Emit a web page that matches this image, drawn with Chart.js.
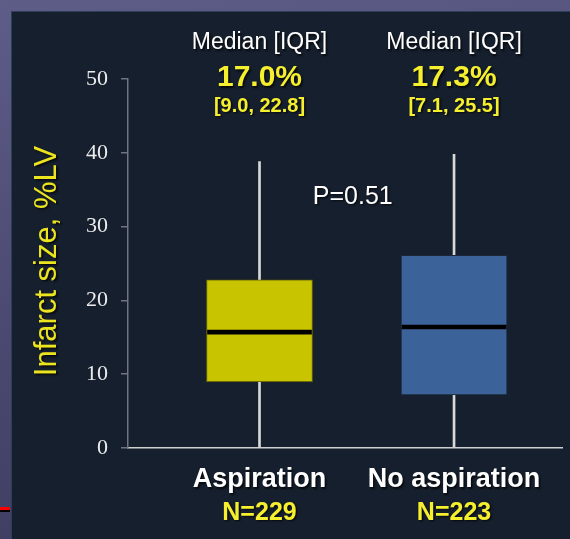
<!DOCTYPE html>
<html>
<head>
<meta charset="utf-8">
<script src="https://cdn.jsdelivr.net/npm/chart.js@4"></script>
<style>
  html, body { margin: 0; padding: 0; }
  body {
    width: 570px; height: 539px; overflow: hidden; position: relative;
    background: linear-gradient(170deg, #5e5d88 0%, #4a4870 55%, #3c3a5c 100%);
  }
  #panel {
    position: absolute; left: 11px; top: 11px; width: 558px; height: 527px;
    background: #161f2d; border-left: 1px solid #2c3f58; border-top: 1px solid #2c3f58;
  }
  #redline { position: absolute; left: 0; top: 507px; width: 10px; height: 3px; background: #ff0000; }
  #blackline { position: absolute; left: 0; top: 510px; width: 10px; height: 2px; background: #000; }
  #chart { position: absolute; left: 0; top: 0; }
</style>
</head>
<body>
<div id="panel"></div>
<div id="redline"></div>
<div id="blackline"></div>
<canvas id="chart" width="570" height="539"></canvas>
<script>
// Dados do gráfico
const groups = ['Aspiration', 'No aspiration'];
const groupN = ['N=229', 'N=223'];
const positions = [1, 2];
const medianLabel = ['17.0%', '17.3%'];
const iqrLabel = ['[9.0, 22.8]', '[7.1, 25.5]'];
const q1 = [9.0, 7.2];
const q3 = [22.8, 26.1];
const medians = [15.7, 16.4];
const whiskerMin = [0, 0];
const whiskerMax = [38.8, 39.8];
const boxColors = ['#c8c400', '#3b6399'];
const boxBorders = ['#6e6c00', '#1b2738'];
const yTicks = [0, 10, 20, 30, 40, 50];
const pValue = 'P=0.51';

// Plugin para textos (anotações, rótulos das categorias, título do eixo)
const textPlugin = {
  id: 'texts',
  afterDraw(chart) {
    const ctx = chart.ctx;
    const xs = chart.scales.x;
    ctx.save();
    ctx.shadowColor = 'rgba(0,0,0,0.7)';
    ctx.shadowBlur = 2;
    ctx.shadowOffsetX = 1.5;
    ctx.shadowOffsetY = 1.5;
    ctx.textAlign = 'center';
    ctx.textBaseline = 'middle';
    positions.forEach((p, i) => {
      const x = xs.getPixelForValue(p);
      ctx.fillStyle = '#ffffff';
      ctx.font = '23px "Liberation Sans", Arial, sans-serif';
      ctx.fillText('Median [IQR]', x, 43);
      ctx.fillStyle = '#f5ef2e';
      ctx.font = 'bold 30px "Liberation Sans", Arial, sans-serif';
      ctx.fillText(medianLabel[i], x, 78);
      ctx.font = 'bold 20px "Liberation Sans", Arial, sans-serif';
      ctx.fillText(iqrLabel[i], x, 106);
      ctx.fillStyle = '#ffffff';
      ctx.font = 'bold 27px "Liberation Sans", Arial, sans-serif';
      ctx.fillText(groups[i], x, 480);
      ctx.fillStyle = '#f5ef2e';
      ctx.font = 'bold 25px "Liberation Sans", Arial, sans-serif';
      ctx.fillText(groupN[i], x, 513);
    });
    ctx.fillStyle = '#ffffff';
    ctx.font = '25px "Liberation Sans", Arial, sans-serif';
    ctx.fillText(pValue, (xs.getPixelForValue(1) + xs.getPixelForValue(2)) / 2 - 4, 197);
    // Título do eixo Y
    ctx.translate(56, 261);
    ctx.rotate(-Math.PI / 2);
    ctx.textBaseline = 'alphabetic';
    ctx.fillStyle = '#ece41e';
    ctx.font = '31px "Liberation Sans", Arial, sans-serif';
    ctx.fillText('Infarct size, %LV', 0, 0);
    ctx.restore();
  }
};

const ctx = document.getElementById('chart').getContext('2d');
new Chart(ctx, {
  type: 'bar',
  data: {
    datasets: [
      {
        // Medianas
        data: positions.map((p, i) => ({ x: p, y: [medians[i] - 0.27, medians[i] + 0.27] })),
        backgroundColor: '#000000',
        barThickness: 104,
        grouped: false,
        order: 0
      },
      {
        // Caixas (IQR)
        data: positions.map((p, i) => ({ x: p, y: [q1[i], q3[i]] })),
        backgroundColor: boxColors,
        borderColor: boxBorders,
        borderWidth: 1,
        borderSkipped: false,
        barThickness: 106,
        grouped: false,
        order: 1
      },
      {
        // Bigodes
        data: positions.map((p, i) => ({ x: p, y: [whiskerMin[i], whiskerMax[i]] })),
        backgroundColor: '#d8d8d8',
        barThickness: 2,
        grouped: false,
        order: 2
      }
    ]
  },
  options: {
    responsive: false,
    animation: false,
    events: [],
    layout: { padding: { left: 0, top: 79, right: 8, bottom: 91 } },
    plugins: { legend: { display: false }, tooltip: { enabled: false } },
    scales: {
      x: {
        type: 'linear',
        min: 0.324,
        max: 2.555,
        offset: false,
        ticks: { display: false },
        grid: { display: false },
        border: { display: true, color: '#cfcfcf', width: 1.5 },
        afterFit(scale) { scale.height = 0; }
      },
      y: {
        min: 0,
        max: 50,
        afterBuildTicks(scale) { scale.ticks = yTicks.map(v => ({ value: v })); },
        ticks: {
          color: '#ececec',
          padding: 13,
          font: { family: '"Liberation Serif", "Times New Roman", serif', size: 22 }
        },
        grid: { drawOnChartArea: false, drawTicks: true, tickLength: 7, color: '#6f7480', lineWidth: 1.5 },
        border: { display: true, color: '#6f7480', width: 1.5 },
        afterFit(scale) { scale.width = 128; }
      }
    }
  },
  plugins: [textPlugin]
});
</script>
</body>
</html>
